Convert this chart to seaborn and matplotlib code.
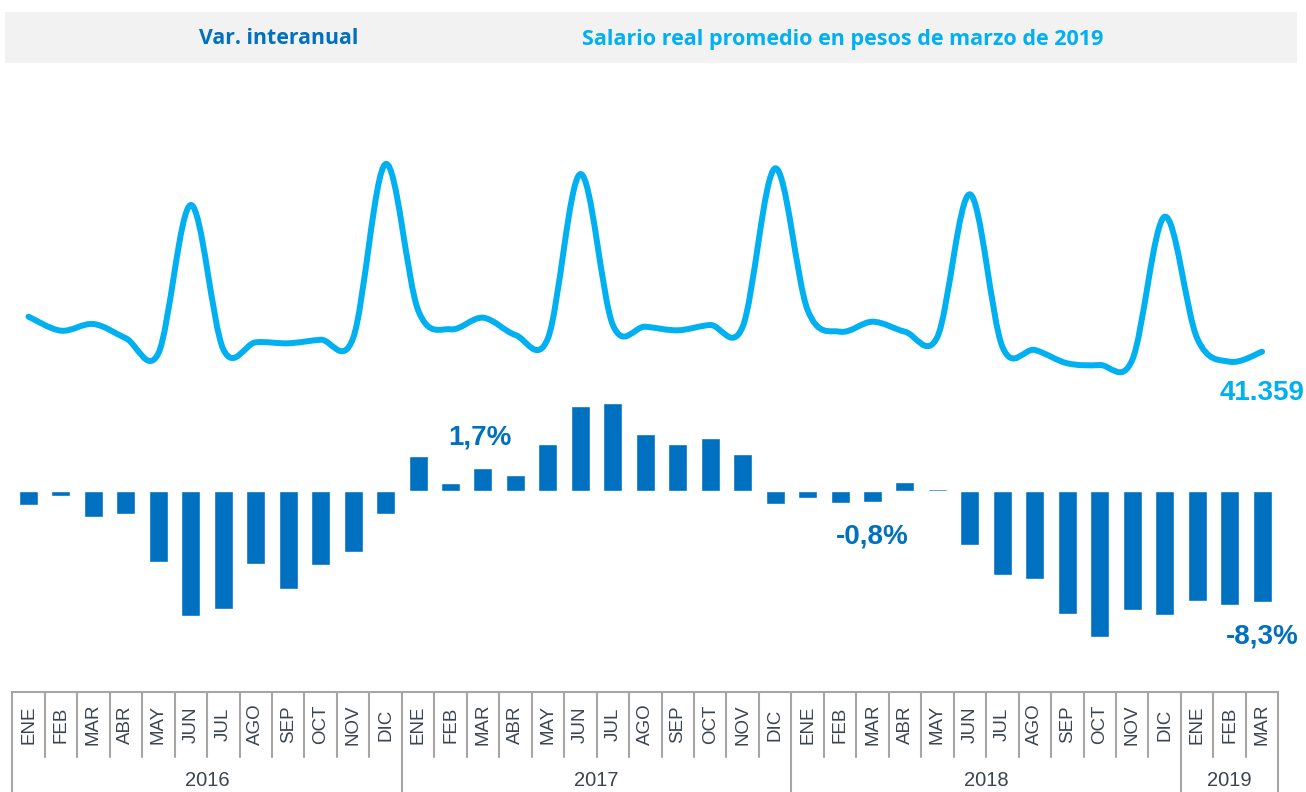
import matplotlib
matplotlib.use('Agg')
import matplotlib.pyplot as plt
import matplotlib.patches as mpatches
from matplotlib.path import Path
import pandas as pd
import numpy as np
import seaborn as sns

# datos: variación interanual (%) y salario real promedio (pesos de marzo 2019)
meses = ['ENE', 'FEB', 'MAR', 'ABR', 'MAY', 'JUN', 'JUL', 'AGO', 'SEP', 'OCT', 'NOV', 'DIC'] * 3 + ['ENE', 'FEB', 'MAR']
anios = [2016] * 12 + [2017] * 12 + [2018] * 12 + [2019] * 3

var_interanual = [-1.07, -0.40, -1.93, -1.75, -5.30, -9.37, -8.87, -5.50, -7.35, -5.55, -4.60, -1.70,
                  2.62, 0.58, 1.70, 1.22, 3.55, 6.35, 6.57, 4.30, 3.52, 3.97, 2.75, -0.95,
                  -0.55, -0.88, -0.80, 0.67, 0.13, -4.05, -6.30, -6.57, -9.24, -10.92, -8.94, -9.30,
                  -8.25, -8.57, -8.30]

salario_real = [46224, 44278, 45209, 43222, 41137, 61750, 41693, 42666, 42527, 43027, 43263, 67449,
                47155, 44473, 46085, 43680, 43222, 66059, 45070, 44834, 44334, 45070, 44834, 66852,
                47155, 44139, 45529, 44139, 43444, 63238, 42054, 41595, 39747, 39510, 40205, 60124,
                43222, 39969, 41359]

AZUL = '#0070C0'
CELESTE = '#00B0F0'
GRIS = '#A6A6A6'
TEXTO = '#3B4550'

df = pd.DataFrame({'mes': meses, 'anio': anios, 'var': var_interanual, 'salario': salario_real})
df['clave'] = df['mes'] + '-' + df['anio'].astype(str)

sns.set_theme(style='white')
plt.rcParams['font.family'] = ['Liberation Sans', 'DejaVu Sans']

fig = plt.figure(figsize=(13.06, 7.92), dpi=100)
ax = fig.add_axes([12.3 / 1306, 100 / 792, 1266 / 1306, 612 / 792])

# barras
sns.barplot(data=df, x='clave', y='var', color=AZUL, saturation=1, width=0.585, ax=ax)
ax.set_xlim(-0.5, len(df) - 0.5)
ax.set_ylim(-15.07, 30.81)
ax.set_axis_off()

# linea suavizada (curvas de Bezier a partir de los puntos)
ax2 = ax.twinx()
ax2.set_ylim(-5943, 79125)
ax2.set_xlim(-0.5, len(df) - 0.5)
ax2.set_axis_off()

xs = np.arange(len(df), dtype=float)
ys = df['salario'].to_numpy(dtype=float)
verts = [(xs[0], ys[0])]
codes = [Path.MOVETO]
n = len(xs)
for i in range(n - 1):
    a = max(i - 1, 0)
    b = min(i + 2, n - 1)
    c1 = (xs[i] + (xs[i + 1] - xs[a]) / 6, ys[i] + (ys[i + 1] - ys[a]) / 6)
    c2 = (xs[i + 1] - (xs[b] - xs[i]) / 6, ys[i + 1] - (ys[b] - ys[i]) / 6)
    verts += [c1, c2, (xs[i + 1], ys[i + 1])]
    codes += [Path.CURVE4] * 3
ax2.add_patch(mpatches.PathPatch(Path(verts, codes), fill=False, edgecolor=CELESTE,
                                 lw=4.3, capstyle='round', joinstyle='round'))

# etiquetas
fs = 20
ax.annotate('1,7%', xy=(14, df['var'][14]), xytext=(-2, 22), textcoords='offset points',
            ha='center', va='center', fontsize=fs, fontweight='bold', color=AZUL)
ax.annotate('-0,8%', xy=(26, df['var'][26]), xytext=(0, -25), textcoords='offset points',
            ha='center', va='center', fontsize=fs, fontweight='bold', color=AZUL)
ax.annotate('-8,3%', xy=(38, df['var'][38]), xytext=(0, -25), textcoords='offset points',
            ha='center', va='center', fontsize=fs, fontweight='bold', color=AZUL)
ax2.annotate('41.359', xy=(38, df['salario'][38]), xytext=(0, -30), textcoords='offset points',
             ha='center', va='center', fontsize=fs, fontweight='bold', color=CELESTE,
             annotation_clip=False)

# tabla de categorias (meses / años)
tab = fig.add_axes([12.3 / 1306, 0, 1266 / 1306, 100 / 792])
tab.set_xlim(-0.5, len(df) - 0.5)
tab.set_ylim(0, 1)
tab.set_axis_off()
fila = 0.35
tab.plot([-0.5, len(df) - 0.5], [1, 1], color=GRIS, lw=1.5, clip_on=False)
cortes = [k for k in range(1, len(df)) if anios[k] != anios[k - 1]]
for k in range(len(df) + 1):
    y0 = 0 if (k == 0 or k == len(df) or k in cortes) else fila
    tab.plot([k - 0.5, k - 0.5], [y0, 1], color=GRIS, lw=1.5, clip_on=False)
for i, m in enumerate(meses):
    tab.text(i, (1 + fila) / 2, m, rotation=90, ha='center', va='center', fontsize=13.5, color=TEXTO)
for a in sorted(set(anios)):
    idx = [i for i, v in enumerate(anios) if v == a]
    tab.text((idx[0] + idx[-1]) / 2, 0.11, str(a), ha='center', va='center', fontsize=14.5, color=TEXTO)

# encabezado
fig.patches.append(mpatches.Rectangle((5 / 1306, 1 - 63 / 792), 1292 / 1306, 51 / 792,
                                      transform=fig.transFigure, facecolor='#F2F2F2',
                                      edgecolor='none', zorder=0))
fig.text(279 / 1306, 1 - 39 / 792, 'Var. interanual', ha='center', va='center',
         fontsize=15.3, fontweight='bold', color=AZUL, family=['Open Sans', 'DejaVu Sans'])
fig.text(843 / 1306, 1 - 39 / 792, 'Salario real promedio en pesos de marzo de 2019', ha='center',
         va='center', fontsize=15.5, fontweight='bold', color=CELESTE, family=['Open Sans', 'DejaVu Sans'])

fig.savefig('out.png', dpi=100)
